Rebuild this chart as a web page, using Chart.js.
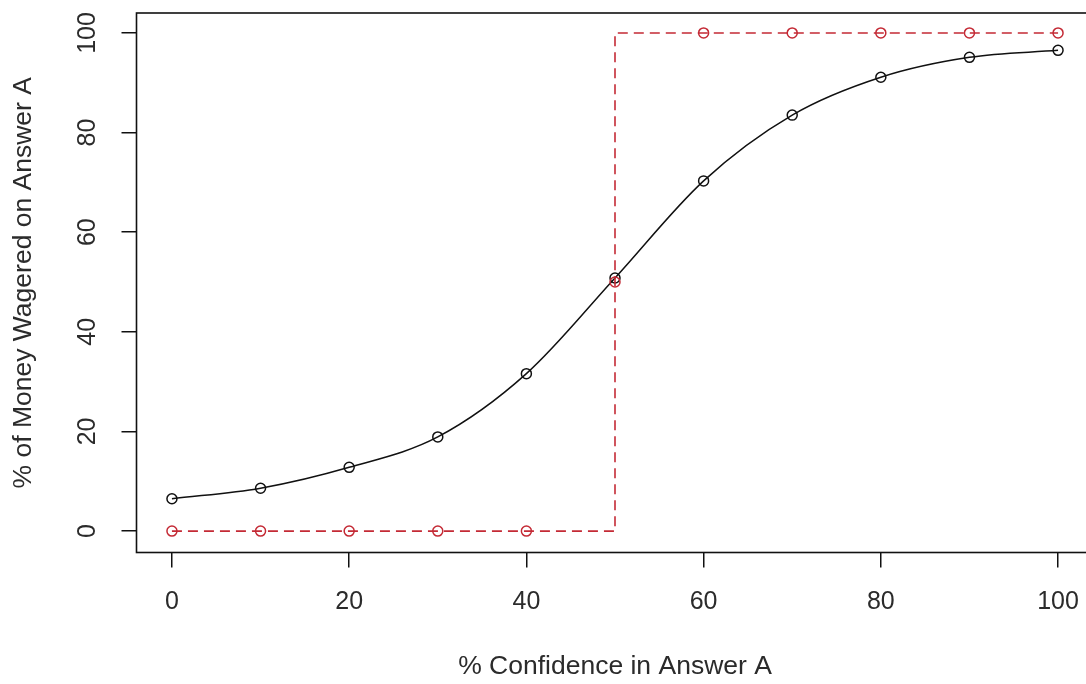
<!DOCTYPE html>
<html lang="en">
<head>
    <meta charset="UTF-8">
    <title>Confidence vs Money Wagered</title>
    <script src="https://cdn.jsdelivr.net/npm/chart.js"></script>
    <style>
        html, body { margin: 0; padding: 0; overflow: hidden; background: #fff; }
        /* the plot box runs past the right edge, like the original picture */
        #wrap { width: 1100px; height: 684px; }
    </style>
</head>
<body>

<div id="wrap">
    <canvas id="myChart"></canvas>
</div>

<script>
    // data
    var confidence = [0, 10, 20, 30, 40, 50, 60, 70, 80, 90, 100];
    var wagered    = [6.5, 8.6, 12.8, 18.9, 31.6, 50.8, 70.3, 83.5, 91.1, 95.1, 96.5];
    var optimal    = [0, 0, 0, 0, 0, 50, 100, 100, 100, 100, 100];
    // the dashed step: 0 below 50 %, all-in from 50 % on
    var optimalStep = [0, 0, 0, 0, 0, 100, 100, 100, 100, 100, 100];
    var xTicks = [0, 20, 40, 60, 80, 100];
    var yTicks = [0, 20, 40, 60, 80, 100];

    var textColor = '#2b2b2b';
    var redColor = '#c42a35';
    var fontFam = '"Liberation Sans", Arial, sans-serif';

    function pts(ys) {
        return confidence.map(function(x, i) { return { x: x, y: ys[i] }; });
    }

    // R style box round the plot region
    var boxPlugin = {
        id: 'box',
        afterDatasetsDraw: function(chart) {
            var a = chart.chartArea, ctx = chart.ctx;
            ctx.save();
            ctx.strokeStyle = '#111';
            ctx.lineWidth = 1.6;
            ctx.strokeRect(a.left, a.top, a.right - a.left, a.bottom - a.top);
            ctx.restore();
        }
    };

    // keep the plot region where the original has it
    function noPad(s) {
        s.paddingTop = 0; s.paddingBottom = 0;
        s.paddingLeft = 0; s.paddingRight = 0;
    }

    var ctx = document.getElementById('myChart').getContext('2d');
    var myChart = new Chart(ctx, {
        type: 'line',
        data: {
            datasets: [{
                label: 'step',
                data: pts(optimalStep),
                stepped: 'before',
                borderColor: redColor,
                borderWidth: 1.6,
                borderDash: [10, 6],
                pointRadius: 0,
                fill: false
            }, {
                label: 'optimal',
                data: pts(optimal),
                showLine: false,
                pointStyle: 'circle',
                pointRadius: 5,
                pointBorderWidth: 1.5,
                pointBorderColor: redColor,
                pointBackgroundColor: 'rgba(0,0,0,0)'
            }, {
                label: 'wagered',
                data: pts(wagered),
                borderColor: '#111',
                borderWidth: 1.5,
                cubicInterpolationMode: 'monotone',
                pointStyle: 'circle',
                pointRadius: 5,
                pointBorderWidth: 1.5,
                pointBorderColor: '#111',
                pointBackgroundColor: 'rgba(0,0,0,0)',
                fill: false
            }]
        },
        options: {
            responsive: true,
            maintainAspectRatio: false,
            animation: false,
            layout: { padding: { top: 13, right: 5, left: 0, bottom: 0 } },
            plugins: {
                legend: { display: false },
                tooltip: { enabled: false }
            },
            scales: {
                x: {
                    type: 'linear',
                    min: -4,
                    max: 104,
                    afterBuildTicks: function(s) { s.ticks = xTicks.map(function(v) { return { value: v }; }); },
                    afterFit: function(s) { s.height = 131.5; noPad(s); },
                    grid: { drawOnChartArea: false, drawTicks: true, tickLength: 15, color: '#111', lineWidth: 1.5 },
                    border: { display: false },
                    ticks: {
                        color: textColor,
                        padding: 20,
                        maxRotation: 0,
                        font: { family: fontFam, size: 25 }
                    },
                    title: {
                        display: true,
                        text: '% Confidence in Answer A',
                        color: textColor,
                        font: { family: fontFam, size: 26.5 },
                        padding: { top: 0, bottom: 1 }
                    }
                },
                y: {
                    type: 'linear',
                    min: -4.3,
                    max: 104,
                    afterBuildTicks: function(s) { s.ticks = yTicks.map(function(v) { return { value: v }; }); },
                    afterFit: function(s) { s.width = 136.5; noPad(s); },
                    grid: { drawOnChartArea: false, drawTicks: true, tickLength: 15, color: '#111', lineWidth: 1.5 },
                    border: { display: false },
                    ticks: {
                        color: textColor,
                        padding: 13,
                        minRotation: 90,
                        maxRotation: 90,
                        crossAlign: 'center',
                        font: { family: fontFam, size: 25 }
                    },
                    title: {
                        display: true,
                        text: '% of Money Wagered on Answer A',
                        color: textColor,
                        font: { family: fontFam, size: 26.5 },
                        padding: { top: 8, bottom: 0 }
                    }
                }
            }
        },
        plugins: [boxPlugin]
    });
</script>

</body>
</html>
